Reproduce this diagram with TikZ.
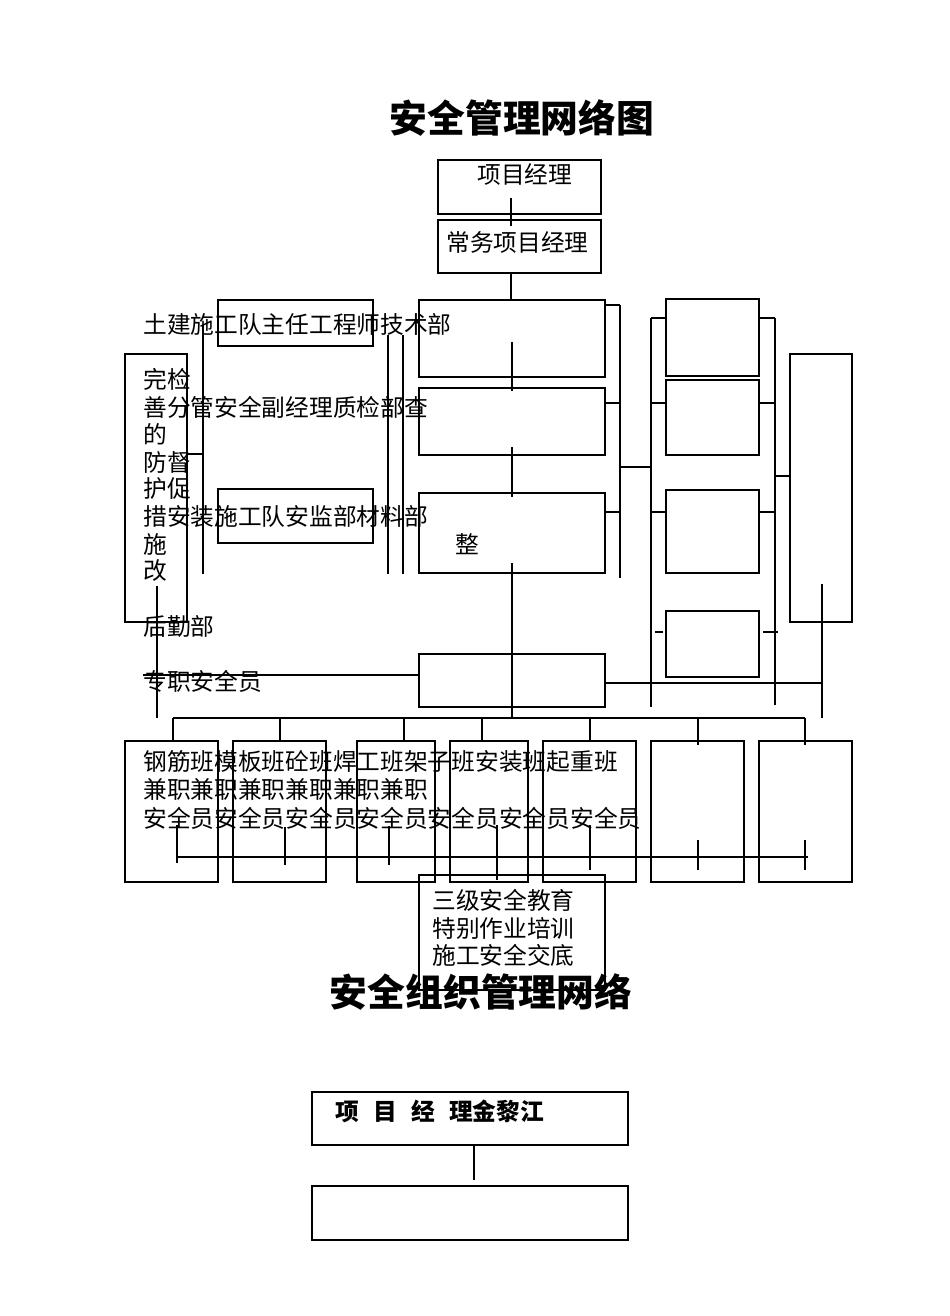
\documentclass[tikz,border=0pt]{standalone}
\usepackage{fontspec}
\setmainfont{Noto Sans CJK SC}
\usetikzlibrary{positioning}

\tikzset{
  box/.style = {draw, thick, inner sep = 0pt},
  lbl/.style = {anchor = west, inner sep = 0pt, font = \fontsize{13.5}{14}\selectfont},
  ttl/.style = {inner sep = 0pt, font = \fontsize{21.5}{23}\selectfont\bfseries},
  ln/.style = {semithick},
}
\def\boxat(#1,#2,#3,#4)#5{%
  \node [box, minimum width = {(#3-#1)*0.02cm}, minimum height = {(#4-#2)*0.02cm}]
  (#5) at ({(#1+#3)/2},{(#2+#4)/2}) {};}

\begin{document}
\begin{tikzpicture}[x=0.02cm, y=-0.02cm]
            \useasboundingbox (0,0) rectangle (950,1316);
            %% titles
            \node [ttl] (title) at (522,118) {安全管理网络图};
            \node [ttl] (title2) at (481,992) {安全组织管理网络};
            %% top boxes
            \boxat(438,160,601,214){pm}
            \boxat(438,220,601,273){cpm}
            \node [lbl] (pmtxt) at (477,174) {项目经理};
            \node [lbl] (cpmtxt) at (446,242) {常务项目经理};
            %% middle column
            \boxat(419,300,605,377){tech}
            \boxat(419,388,605,455){qual}
            \boxat(419,493,605,573){matl}
            \boxat(419,654,605,707){safe}
            \node [lbl] (zheng) at (455,544) {整};
            %% left boxes
            \boxat(218,300,373,346){civil}
            \boxat(218,489,373,543){inst}
            \boxat(125,354,187,622){check}
            %% right columns
            \boxat(666,299,759,376){ra}
            \boxat(666,380,759,455){rb}
            \boxat(666,490,759,573){rc}
            \boxat(666,611,759,677){rd}
            \boxat(790,354,852,622){rtall}
            %% team boxes
            \foreach \xa/\xb/\n in {125/218/t1, 233/326/t2, 357/435/t3, 450/528/t4,
                                     543/636/t5, 651/744/t6, 759/852/t7}
              {\boxat(\xa,741,\xb,882){\n}}
            \boxat(419,875,605,990){edu}
            %% bottom chart
            \boxat(312,1092,628,1145){bpm}
            \boxat(312,1186,628,1240){bnext}
            \node [lbl, font = \fontsize{13.5}{14}\selectfont\bfseries] (bpmtxt) at (335,1111)
              {项\hspace{0.6em}目\hspace{0.6em}经\hspace{0.6em}理金黎江};
            \draw [ln] (bpm.south -| 474,0) -- (474,1180);
            %% vertical spine
            \draw [ln] (511,198) -- (511,226);
            \draw [ln] (cpm.south -| 511,0) -- (tech.north -| 511,0);
            \draw [ln] (512,342) -- (512,391);
            \draw [ln] (512,447) -- (512,497);
            \draw [ln] (512,563) -- (512,718);
            %% team bus
            \draw [ln] (173,718) -- (805,718);
            \foreach \x in {173,280,404,482,590}
              {\draw [ln] (\x,718) -- (\x,741);}
            \draw [ln] (698,718) -- (698,745);
            \draw [ln] (805,718) -- (805,745);
            \draw [ln] (177,857) -- (808,857);
            \foreach \x/\a/\b in {177/825/863, 285/827/865, 389/826/865, 497/825/880,
                                  590/825/870, 698/840/870, 805/840/870}
              {\draw [ln] (\x,\a) -- (\x,\b);}
            %% left rails
            \draw [ln] (203,325) -- (203,574);
            \draw [ln] (388,335) -- (388,574);
            \draw [ln] (403,335) -- (403,574);
            \draw [ln] (check.east |- 0,454) -- (203,454);
            \draw [ln] (157,586) -- (157,718);
            \draw [ln] (143,675) -- (safe.west |- 0,675);
            %% right rails
            \draw [ln] (safe.east |- 0,683) -- (822,683);
            \draw [ln] (822,584) -- (822,718);
            \draw [ln] (620,305) -- (620,578);
            \foreach \y in {305,403,512} {\draw [ln] (605,\y) -- (620,\y);}
            \draw [ln] (620,467) -- (651,467);
            \draw [ln] (651,318) -- (651,707);
            \draw [ln] (775,318) -- (775,705);
            \foreach \y in {318,403,512}
              {\draw [ln] (651,\y) -- (666,\y);
               \draw [ln] (759,\y) -- (775,\y);}
            \draw [ln] (655,632) -- (663,632);
            \draw [ln] (763,632) -- (778,632);
            \draw [ln] (775,476) -- (rtall.west |- 0,476);
            %% left texts
            \node [lbl] (l1) at (143,324) {土建施工队主任工程师技术部};
            \node [lbl] (l2) at (143,379) {完检};
            \node [lbl] (l3) at (143,407) {善分管安全副经理质检部查};
            \node [lbl] (l4) at (143,434) {的};
            \node [lbl] (l5) at (143,462) {防督};
            \node [lbl] (l6) at (143,489) {护促};
            \node [lbl] (l7) at (143,516) {措安装施工队安监部材料部};
            \node [lbl] (l8) at (143,544) {施};
            \node [lbl] (l9) at (143,571) {改};
            \node [lbl] (l10) at (143,626) {后勤部};
            \node [lbl] (l11) at (143,681) {专职安全员};
            %% team texts
            \node [lbl] (r1) at (143,762) {钢筋班模板班砼班焊工班架子班安装班起重班};
            \node [lbl] (r2) at (143,789) {兼职兼职兼职兼职兼职兼职};
            \node [lbl] (r3) at (143,818) {安全员安全员安全员安全员安全员安全员安全员};
            \node [lbl] (e1) at (432,900) {三级安全教育};
            \node [lbl] (e2) at (432,928) {特别作业培训};
            \node [lbl] (e3) at (432,955) {施工安全交底};
\end{tikzpicture}
\end{document}
